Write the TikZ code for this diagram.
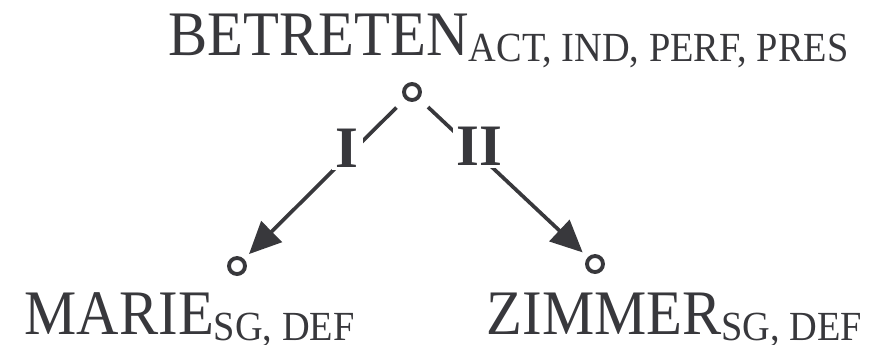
\documentclass[tikz,border=0pt]{standalone}
\usepackage{fontspec}
\setmainfont{Liberation Serif}
\usetikzlibrary{arrows.meta}

\definecolor{ink}{HTML}{38383C}
% word with its features set below the line, slightly condensed
\newcommand{\lex}[2]{\scalebox{1}[1.08]{\fontsize{16.7}{20}\selectfont #1\raisebox{-1.6pt}{\fontsize{10.9}{12}\selectfont #2}}}

\begin{document}
\begin{tikzpicture}[x=0.01cm, y=-0.01cm, ink,
    word/.style={inner sep=0pt, anchor=base west, text=ink},
    dot/.style={circle, draw=ink, line width=1.1pt, minimum size=0.16cm, inner sep=0pt},
    arc/.style={draw=ink, line width=1.05pt, -{Triangle[length=0.32cm, width=0.29cm]}, shorten <=0.12cm, shorten >=0.07cm},
    rel/.style={fill=white, inner xsep=0.04cm, inner ysep=0.02cm, text=ink, font=\fontsize{16.7}{20}\selectfont\bfseries}]
  \useasboundingbox (0,0) rectangle (889,344);

  % governor
  \node[word] (betreten) at (168,55) {\lex{BETRETEN}{ACT, IND, PERF, PRES}};
  \node[dot] (v0) at (412,92) {};

  % dependents
  \node[dot] (v1) at (237,266) {};
  \node[dot] (v2) at (595,264) {};
  \node[word] (marie) at (24,334) {\lex{MARIE}{SG, DEF}};
  \node[word] (zimmer) at (486,334) {\lex{ZIMMER}{SG, DEF}};

  \path (v0) edge[arc] node[rel, pos=.31, xshift=-0.08cm] {I} (v1)
        (v0) edge[arc] node[rel, pos=.30, xshift=0.1cm] {II} (v2);
\end{tikzpicture}
\end{document}
